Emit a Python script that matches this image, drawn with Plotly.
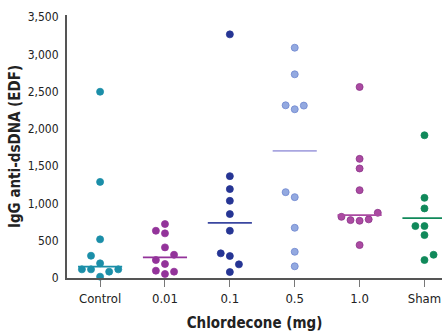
import plotly.graph_objects as go

categories = ["Control", "0.01", "0.1", "0.5", "1.0", "Sham"]

control_vals = [2500, 1290, 519, 299, 197, 116, 116, 85, 116, 18]
control_slot = [0, 0, 0, -1, 0, -2, -1, 1, 2, 0]
d001_vals = [724, 634, 599, 411, 312, 241, 188, 98, 85, 54]
d001_slot = [0, -1, 0, 0, 1, -1, 0, -1, 1, 0]
d01_vals = [3270, 1367, 1193, 1036, 858, 634, 331, 295, 183, 80]
d01_slot = [0, 0, 0, 0, 0, 0, -1, 0, 1, 0]
d05_vals = [3091, 2734, 2318, 2265, 2314, 1152, 1085, 674, 352, 157]
d05_slot = [0, 0, -1, 0, 1, -1, 0, 0, 0, 0]
d10_vals = [2564, 1599, 1470, 1179, 875, 821, 777, 768, 787, 442]
d10_slot = [0, 0, 0, 0, 2, -2, -1, 0, 1, 0]
sham_vals = [1916, 1076, 934, 697, 697, 576, 312, 241]
sham_slot = [0, 0, 0, -1, 0, 0, 1, 0]

medians = [152, 277, 741, 1706, 844, 804]

groups = [control_vals, d001_vals, d01_vals, d05_vals, d10_vals, sham_vals]
slots = [control_slot, d001_slot, d01_slot, d05_slot, d10_slot, sham_slot]
fills = ["#1b8ea8", "#93339a", "#263594", "#93a9e0", "#ab4aa2", "#10895a"]
edges = ["#1b8ea8", "#93339a", "#263594", "#6e86cf", "#8a3388", "#10895a"]
lines = ["#1b8ea8", "#93339a", "#3a47a0", "#a9a6e0", "#ab4aa2", "#10895a"]

SLOT_W = 0.14
HALF = 0.34

fig = go.Figure()
for i, (vals, sl) in enumerate(zip(groups, slots)):
    fig.add_trace(go.Scatter(
        x=[i + s * SLOT_W for s in sl], y=vals, mode="markers",
        marker=dict(size=7, color=fills[i], line=dict(width=0.8, color=edges[i])),
        cliponaxis=False, showlegend=False, hoverinfo="y"))
    fig.add_trace(go.Scatter(
        x=[i - HALF, i + HALF], y=[medians[i], medians[i]], mode="lines",
        line=dict(color=lines[i], width=1.8), showlegend=False,
        cliponaxis=False, hoverinfo="skip"))

font = "DejaVu Sans Condensed, Liberation Sans Narrow, Roboto Condensed, sans-serif"
fig.update_layout(
    width=444, height=333,
    margin=dict(l=67, r=2, t=15, b=55),
    paper_bgcolor="white", plot_bgcolor="white",
    font=dict(family=font, size=12, color="#222"),
    xaxis=dict(
        range=[-0.51, 5.27], tickmode="array", tickvals=list(range(6)),
        ticktext=categories, showgrid=False, zeroline=False,
        showline=True, linecolor="#555", linewidth=2,
        ticks="outside", ticklen=7, tickcolor="#777", tickwidth=1,
        tickfont=dict(size=13, family=font),
        title=dict(text="Chlordecone (mg)", font=dict(size=15, family=font, color="#222",
                                                      weight="bold"), standoff=13),
    ),
    yaxis=dict(
        range=[0, 3530], tickmode="array", tickvals=list(range(0, 3501, 500)),
        ticktext=[f"{v:,}" for v in range(0, 3501, 500)],
        showgrid=False, zeroline=False, showline=True, linecolor="#555", linewidth=2,
        ticks="", tickfont=dict(size=12, family=font), ticklabelstandoff=4,
        title=dict(text="IgG anti-dsDNA (EDF)", font=dict(size=15, family=font, color="#222",
                                                          weight="bold"), standoff=3),
    ),
)
fig.write_html("out.html")
